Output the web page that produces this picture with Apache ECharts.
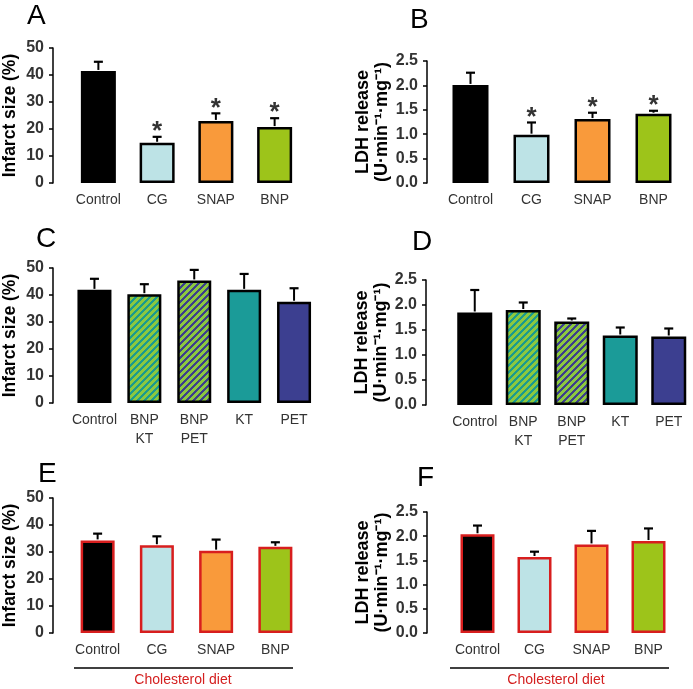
<!DOCTYPE html>
<html><head><meta charset="utf-8">
<script src="https://cdn.jsdelivr.net/npm/echarts@6/dist/echarts.min.js"></script>
<style>html,body{margin:0;padding:0;background:#fff}#c{width:693px;height:689px}</style>
</head><body><div id="c"></div>
<script>
// ---- data ----
const catsABEF = ['Control', 'CG', 'SNAP', 'BNP'];
const catsCD = ['Control', 'BNP\nKT', 'BNP\nPET', 'KT', 'PET'];
const infarctA = [41.5, 14.9, 23.0, 20.7];
const infarctAErr = [3.4, 2.2, 2.8, 3.3];
const sigA = [0, 1, 1, 1];
const ldhB = [2.01, 0.99, 1.31, 1.42];
const ldhBErr = [0.25, 0.25, 0.13, 0.06];
const sigB = [0, 1, 1, 1];
const infarctC = [41.9, 40.3, 45.4, 41.9, 37.5];
const infarctCErr = [4.1, 3.7, 3.9, 5.9, 5.0];
const ldhD = [1.85, 1.90, 1.67, 1.39, 1.37];
const ldhDErr = [0.45, 0.15, 0.06, 0.16, 0.16];
const infarctE = [34.3, 32.5, 30.5, 31.9];
const infarctEErr = [2.5, 3.3, 4.1, 1.7];
const ldhF = [2.04, 1.57, 1.83, 1.90];
const ldhFErr = [0.18, 0.11, 0.28, 0.26];
const infarctTicks = [0, 50, 10];
const ldhTicks = [0, 2.5, 0.5];

// ---- styles ----
const FONT = 'Liberation Sans, Arial, sans-serif';
function stripes(c1, c2) {
  const p = 7, cv = document.createElement('canvas');
  cv.width = p; cv.height = p;
  const ctx = cv.getContext('2d');
  for (let x = 0; x < p; x++) for (let y = 0; y < p; y++) {
    ctx.fillStyle = ((x + y) % p) < 3.5 ? c1 : c2;
    ctx.fillRect(x, y, 1, 1);
  }
  return { image: cv, repeat: 'repeat' };
}
const colABEF = ['#000000', '#bde3e6', '#f99a3b', '#9dc41a'];
const colCD = ['#000000', stripes('#8cc83f', '#1b9b8f'), stripes('#8cc83f', '#3c3f8c'), '#1b9b98', '#3c3f90'];

const panels = [
  { cats: catsABEF, vals: infarctA, err: infarctAErr, sig: sigA, ticks: infarctTicks, cols: colABEF, border: '#000',
    axisX: 52, top: 48, bottom: 183, left: 68, width: 236, barW: 35, name: 'Infarct size (%)', dec: 0 },
  { cats: catsABEF, vals: ldhB, err: ldhBErr, sig: sigB, ticks: ldhTicks, cols: colABEF, border: '#000',
    axisX: 427, top: 61, bottom: 183, left: 440, width: 244, barW: 36, name: 'LDH release\n(U·min⁻¹·mg⁻¹)', dec: 1 },
  { cats: catsCD, vals: infarctC, err: infarctCErr, sig: null, ticks: infarctTicks, cols: colCD, border: '#000',
    axisX: 52, top: 268, bottom: 403, left: 68.5, width: 250.5, barW: 34, name: 'Infarct size (%)', dec: 0 },
  { cats: catsCD, vals: ldhD, err: ldhDErr, sig: null, ticks: ldhTicks, cols: colCD, border: '#000',
    axisX: 426, top: 280, bottom: 405, left: 450.5, width: 248, barW: 35, name: 'LDH release\n(U·min⁻¹·mg⁻¹)', dec: 1 },
  { cats: catsABEF, vals: infarctE, err: infarctEErr, sig: null, ticks: infarctTicks, cols: colABEF, border: '#d81e1e',
    axisX: 52, top: 498, bottom: 633, left: 67, width: 238, barW: 34, name: 'Infarct size (%)', dec: 0 },
  { cats: catsABEF, vals: ldhF, err: ldhFErr, sig: null, ticks: ldhTicks, cols: colABEF, border: '#d81e1e',
    axisX: 427, top: 512, bottom: 633, left: 449, width: 228, barW: 34, name: 'LDH release\n(U·min⁻¹·mg⁻¹)', dec: 1 }
];

const grid = [], xAxis = [], yAxis = [], series = [];
panels.forEach((p, i) => {
  grid.push({ left: p.left, top: p.top, width: p.width, height: p.bottom - p.top });
  xAxis.push({ type: 'category', gridIndex: i, data: p.cats,
    axisLine: { show: false }, axisTick: { show: false },
    axisLabel: { interval: 0, fontFamily: FONT, fontSize: 14, color: '#333', margin: 8, lineHeight: 19, verticalAlign: 'top' } });
  yAxis.push({ type: 'value', gridIndex: i, min: p.ticks[0], max: p.ticks[1], interval: p.ticks[2],
    offset: p.left - p.axisX,
    splitLine: { show: false },
    axisLine: { show: true, lineStyle: { color: '#000', width: 1.5 } },
    axisTick: { show: true, length: 4, lineStyle: { color: '#000', width: 1.5 } },
    axisLabel: { fontFamily: FONT, fontSize: 16, fontWeight: 'bold', color: '#333', margin: 9,
      formatter: v => v.toFixed(p.dec) },
    name: p.name, nameLocation: 'middle', nameGap: p.dec ? 30 : 33,
    nameTextStyle: { fontFamily: FONT, fontSize: p.dec ? 18 : 17.5, fontWeight: 'bold', color: '#000', lineHeight: 19 } });
  series.push({ type: 'bar', xAxisIndex: i, yAxisIndex: i, barWidth: p.barW, z: 2,
    data: p.vals.map((v, k) => ({ value: v, itemStyle: { color: p.cols[k], borderColor: p.border, borderWidth: 2.5 } })) });
  series.push({ type: 'custom', xAxisIndex: i, yAxisIndex: i, z: 3,
    data: p.vals.map((v, k) => [k, v, p.err[k]]),
    renderItem: (params, api) => {
      const a = api.coord([api.value(0), api.value(1)]);
      const b = api.coord([api.value(0), api.value(1) + api.value(2)]);
      return { type: 'group', children: [
        { type: 'line', shape: { x1: a[0], y1: a[1] - 1, x2: b[0], y2: b[1] }, style: { stroke: '#000', lineWidth: 2 } },
        { type: 'line', shape: { x1: b[0] - 4.5, y1: b[1], x2: b[0] + 4.5, y2: b[1] }, style: { stroke: '#000', lineWidth: 2.2 } }
      ] };
    } });
  if (p.sig) {
    series.push({ type: 'custom', xAxisIndex: i, yAxisIndex: i, z: 4,
      data: p.vals.map((v, k) => [k, v + p.err[k], p.sig[k]]).filter(d => d[2]),
      renderItem: (params, api) => {
        const b = api.coord([api.value(0), api.value(1)]);
        return { type: 'text', style: { text: '*', x: b[0], y: b[1] - 5, fontSize: 26, fontWeight: 'bold', fontFamily: FONT,
          fill: '#333', align: 'center', verticalAlign: 'middle' } };
      } });
  }
});

const letter = (t, x, y) => ({ type: 'text', left: x, top: y, style: { text: t, fontSize: 28, fontFamily: FONT, fill: '#000' } });
const graphic = [
  letter('A', 27, 2), letter('B', 410, 6), letter('C', 36, 225), letter('D', 412, 228),
  letter('E', 38, 460), letter('F', 417, 464),
  { type: 'line', shape: { x1: 74, y1: 668, x2: 293, y2: 668 }, style: { stroke: '#000', lineWidth: 1.5 } },
  { type: 'line', shape: { x1: 450, y1: 668, x2: 669, y2: 668 }, style: { stroke: '#000', lineWidth: 1.5 } },
  { type: 'text', x: 183, y: 680, style: { text: 'Cholesterol diet', fontSize: 14, fontFamily: FONT, fill: '#d42020', align: 'center', verticalAlign: 'middle' } },
  { type: 'text', x: 556, y: 680, style: { text: 'Cholesterol diet', fontSize: 14, fontFamily: FONT, fill: '#d42020', align: 'center', verticalAlign: 'middle' } }
];

const chart = echarts.init(document.getElementById('c'), null, { renderer: 'canvas' });
chart.setOption({ backgroundColor: '#fff', animation: false, grid, xAxis, yAxis, series, graphic });
</script></body></html>
